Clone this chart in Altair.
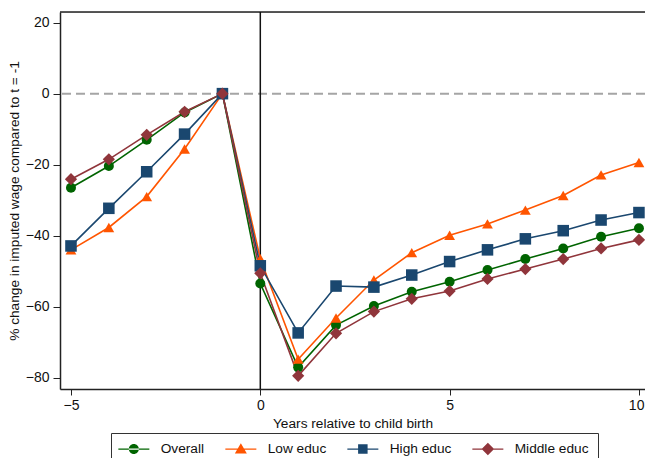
import altair as alt
import pandas as pd

years = list(range(-5, 11))
series_names = ["Overall", "Low educ", "High educ", "Middle educ"]
overall = [-26.5, -20.4, -13.0, -5.3, 0.0, -53.5, -77.1, -65.2, -59.8, -55.8, -53.0, -49.7, -46.6, -43.6, -40.3, -37.9]
low_educ = [-44.0, -37.7, -29.0, -15.6, 0.0, -46.5, -74.8, -63.2, -52.5, -44.8, -39.9, -36.7, -32.8, -28.7, -22.9, -19.4]
high_educ = [-42.9, -32.3, -22.0, -11.4, 0.0, -48.5, -67.4, -54.2, -54.5, -51.1, -47.3, -44.0, -40.9, -38.6, -35.6, -33.5]
middle_educ = [-24.1, -18.5, -11.6, -5.1, 0.0, -50.6, -79.5, -67.5, -61.4, -57.8, -55.6, -52.2, -49.4, -46.6, -43.6, -41.2]

colors = ["#006400", "#ff5500", "#1a476f", "#90353b"]
shapes = ["circle", "triangle-up", "square", "diamond"]
sizes = [100, 150, 110, 170]

Y_MAX = 23.0
Y_MIN = -83.2

# legend symbols: a line segment with the marker on it
seg = "M-3.1,-0.13L3.1,-0.13L3.1,0.13L-3.1,0.13Z "
legend_paths = [
    seg + "M-1,0A1,1 0 1,0 1,0A1,1 0 1,0 -1,0Z",
    seg + "M0,-1.15L1.2,0.9L-1.2,0.9Z",
    seg + "M-0.95,-0.95L0.95,-0.95L0.95,0.95L-0.95,0.95Z",
    seg + "M0,-1.25L1.25,0L0,1.25L-1.25,0Z",
]

rows = []
for name, vals in zip(series_names, [overall, low_educ, high_educ, middle_educ]):
    for yr, v in zip(years, vals):
        rows.append({"year": yr, "value": v, "series": name})
df = pd.DataFrame(rows)

FONT = "Liberation Sans"

xscale = alt.Scale(domain=[-5.29, 10.16], nice=False, zero=False)
yscale = alt.Scale(domain=[Y_MIN, Y_MAX], nice=False, zero=False)

xenc = alt.X("year:Q", scale=xscale,
             axis=alt.Axis(values=[-5, 0, 5, 10], title="Years relative to child birth",
                           grid=False, tickSize=6, tickWidth=1, tickColor="#222",
                           domainColor="#222", domainWidth=1.5, labelFontSize=14,
                           labelPadding=3, labelColor="#111", titleFontSize=13.7,
                           titleFontWeight="normal", titleColor="#111", titlePadding=4,
                           labelFlush=8, labelFlushOffset=5,
                           labelFont=FONT, titleFont=FONT))
yenc = alt.Y("value:Q", scale=yscale,
             axis=alt.Axis(values=[-80, -60, -40, -20, 0, 20],
                           title="% change in imputed wage compared to t = -1",
                           grid=False, tickSize=7, tickWidth=1, tickColor="#222",
                           domainColor="#222", domainWidth=1.5, labelFontSize=14,
                           labelPadding=4, labelColor="#111", titleFontSize=13.7,
                           titleFontWeight="normal", titleColor="#111", titlePadding=4,
                           labelFont=FONT, titleFont=FONT))

hline = alt.Chart(pd.DataFrame({"v": [0]})).mark_rule(
    color="#a5a5a5", strokeWidth=2, strokeDash=[9, 5]
).encode(y=alt.Y("v:Q", scale=yscale))

topline = alt.Chart(pd.DataFrame({"v": [Y_MAX]})).mark_rule(
    color="#222", strokeWidth=1.5
).encode(y=alt.Y("v:Q", scale=yscale))

vline = alt.Chart(pd.DataFrame({"v": [0]})).mark_rule(
    color="#111", strokeWidth=1.5
).encode(x=alt.X("v:Q", scale=xscale))

color_scale = alt.Scale(domain=series_names, range=colors)

lines = alt.Chart(df).mark_line(strokeWidth=1.6).encode(
    x=xenc, y=yenc,
    color=alt.Color("series:N", scale=color_scale, legend=None),
    order=alt.Order("year:Q"),
)

points = alt.Chart(df).mark_point(filled=True, opacity=1).encode(
    x=xenc, y=yenc,
    color=alt.Color("series:N", scale=color_scale, legend=None),
    shape=alt.Shape("series:N", scale=alt.Scale(domain=series_names, range=shapes), legend=None),
    size=alt.Size("series:N", scale=alt.Scale(domain=series_names, range=sizes), legend=None),
)

leg = alt.Legend(
    title=None, orient="none", legendX=51, legendY=421, direction="horizontal",
    columns=4, symbolSize=100, symbolOffset=7, labelOffset=20, columnPadding=20,
    padding=9, strokeColor="#333", labelFontSize=13.7, labelFont=FONT,
    labelColor="#111", symbolStrokeWidth=0,
)

legend_layer = alt.Chart(df).transform_filter("false").mark_point(
    filled=True, opacity=1, size=100
).encode(
    x=xenc, y=yenc,
    color=alt.Color("series:N", scale=color_scale, legend=leg),
    shape=alt.Shape("series:N", scale=alt.Scale(domain=series_names, range=legend_paths), legend=leg),
)

chart = alt.layer(topline, hline, vline, lines, points, legend_layer).resolve_scale(
    color="independent", shape="independent", size="independent"
).properties(
    width=585, height=377,
    padding={"left": 52, "top": 4, "right": 0, "bottom": 69},
    autosize=alt.AutoSizeParams(type="none"),
).configure_view(stroke=None).configure(background="white")

chart.save("out.html", embed_options={"renderer": "svg", "actions": False})
